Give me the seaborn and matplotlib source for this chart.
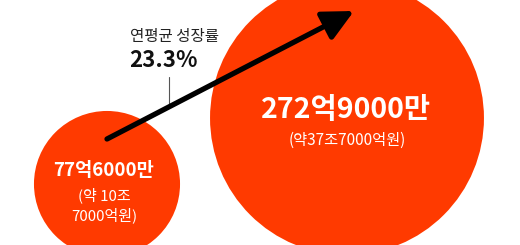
import matplotlib
matplotlib.use("Agg")
import matplotlib.pyplot as plt
import seaborn as sns
import pandas as pd

sns.set_theme(style="white")
plt.rcParams['font.family'] = ['Noto Sans CJK KR', 'DejaVu Sans']

# ---- data ----
labels_main = ["77억6000만", "272억9000만"]
labels_sub = ["(약 10조\n7000억원)", "(약37조7000억원)"]
values = [77.6, 272.9]          # bubble area values
growth_label = "연평균 성장률"
growth_value = "23.3%"
unit_label = "시장 규모"

# ---- layout (pixel coordinates) ----
pos_x = [107, 347]
pos_y = [184, 118]
RED = "#FF3A00"
S_MAX = 38900  # marker area (pt^2) for the largest value

df = pd.DataFrame({"x": pos_x, "y": pos_y, "value": values})

fig = plt.figure(figsize=(5.2, 2.45), dpi=100)
ax = fig.add_axes([0, 0, 1, 1])
sns.scatterplot(data=df, x="x", y="y", size="value", sizes=(0, S_MAX),
                size_norm=(0, max(values)), legend=False, color=RED,
                linewidth=0, alpha=1, ax=ax)
ax.set_xlim(0, 520)
ax.set_ylim(245, 0)
ax.axis("off")

# arrow
ax.annotate("", xy=(354, 11), xytext=(107, 139),
            arrowprops=dict(arrowstyle="-|>,head_length=0.85,head_width=0.42",
                            lw=3.8, color="black", mutation_scale=22,
                            shrinkA=0, shrinkB=0, capstyle="round"))

# growth annotation
ax.plot([169, 169], [77, 106], color="#555555", lw=0.8)
ax.text(130, 36, growth_label, fontsize=11.2, fontweight="medium",
        color="#222222", ha="left", va="center")
ax.text(129, 60, growth_value, fontsize=16, fontweight="bold",
        color="#111111", ha="left", va="center")

# clipped unit label at top (mostly outside the canvas, as in the reference)
ax.text(34, -5, unit_label, fontsize=9, color="#aaaaaa", ha="left", va="center")

# small bubble labels
ax.text(104, 170, labels_main[0], fontsize=13.5, fontweight="bold",
        color="white", ha="center", va="center")
ax.text(104, 205, labels_sub[0], fontsize=10.8, fontweight="medium",
        color="white", ha="center", va="center", linespacing=1.35)

# large bubble labels
ax.text(346, 110, labels_main[1], fontsize=20.5, fontweight="bold",
        color="white", ha="center", va="center")
ax.text(347, 140, labels_sub[1], fontsize=11, fontweight="medium",
        color="white", ha="center", va="center")

fig.savefig("out.png", dpi=100)
